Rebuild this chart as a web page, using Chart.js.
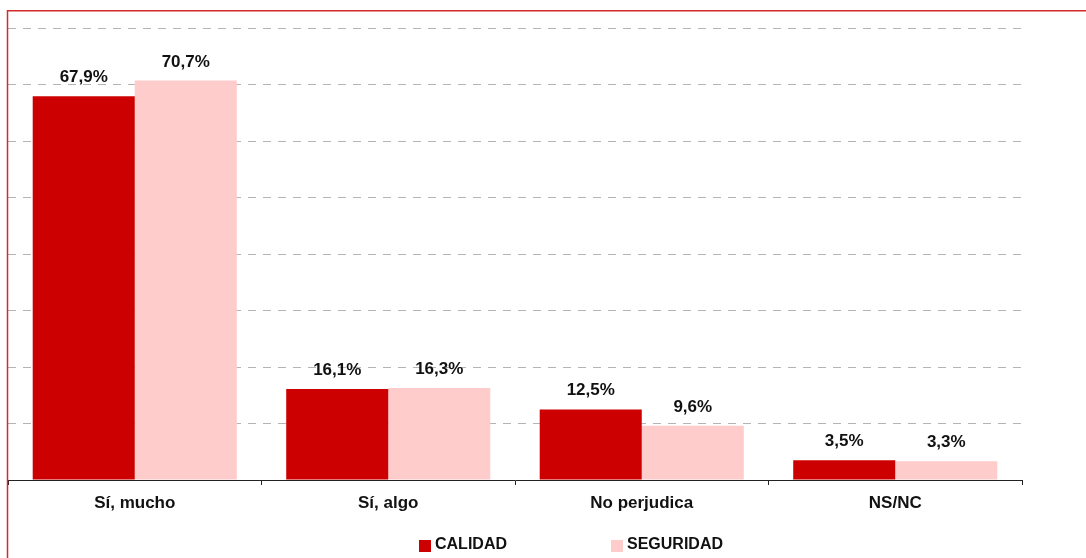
<!DOCTYPE html>
<html>
<head>
<meta charset="utf-8">
<style>
    body { margin: 0; background: #fff; }
    #wrap { width: 1086px; height: 558px; }
</style>
</head>
<body>
<div id="wrap"><canvas id="myChart" width="1086" height="558"></canvas></div>

<script src="https://cdn.jsdelivr.net/npm/chart.js"></script>
<script>
    // datos
    const categorias = ['Sí, mucho', 'Sí, algo', 'No perjudica', 'NS/NC'];
    const calidad = [67.9, 16.1, 12.5, 3.5];
    const seguridad = [70.7, 16.3, 9.6, 3.3];
    const fuente = '"Liberation Sans", Arial, sans-serif';

    function fmt(v) {
        return v.toFixed(1).replace('.', ',') + '%';
    }

    // etiquetas encima de cada barra
    const etiquetas = {
        id: 'etiquetas',
        afterDatasetsDraw(chart) {
            const ctx = chart.ctx;
            ctx.save();
            ctx.font = 'bold 17px ' + fuente;
            ctx.fillStyle = '#111';
            ctx.textAlign = 'center';
            ctx.textBaseline = 'alphabetic';
            chart.data.datasets.forEach((ds, i) => {
                chart.getDatasetMeta(i).data.forEach((bar, j) => {
                    ctx.fillText(fmt(ds.data[j]), bar.x, bar.y - 14);
                });
            });
            ctx.restore();
        }
    };

    // marco rojo y leyenda abajo
    const marco = {
        id: 'marco',
        afterDraw(chart) {
            const ctx = chart.ctx;
            ctx.save();
            ctx.strokeStyle = '#d42a2a';
            ctx.lineWidth = 1.5;
            ctx.beginPath();
            ctx.moveTo(7.5, chart.height);
            ctx.lineTo(7.5, 10.75);
            ctx.lineTo(chart.width, 10.75);
            ctx.stroke();

            ctx.font = 'bold 16px ' + fuente;
            ctx.textBaseline = 'middle';
            ctx.textAlign = 'left';
            const xs = [419, 611];
            chart.data.datasets.forEach((ds, i) => {
                ctx.fillStyle = ds.backgroundColor;
                ctx.fillRect(xs[i], 540, 12, 12);
                ctx.fillStyle = '#111';
                ctx.fillText(ds.label, xs[i] + 16, 545);
            });
            ctx.restore();
        }
    };

    const ctx = document.getElementById('myChart');
    const chart = new Chart(ctx, {
        type: 'bar',
        data: {
            labels: categorias,
            datasets: [
                {
                    label: 'CALIDAD',
                    data: calidad,
                    backgroundColor: '#cc0000',
                    borderWidth: 0,
                    categoryPercentage: 0.805,
                    barPercentage: 1.0,
                },
                {
                    label: 'SEGURIDAD',
                    data: seguridad,
                    backgroundColor: '#ffcccc',
                    borderWidth: 0,
                    categoryPercentage: 0.805,
                    barPercentage: 1.0,
                }
            ]
        },
        plugins: [etiquetas, marco],
        options: {
            responsive: false,
            animation: false,
            layout: { padding: { left: 8, right: 64, top: 28, bottom: 0 } },
            plugins: {
                legend: { display: false },
                tooltip: { enabled: false },
            },
            scales: {
                x: {
                    afterFit: s => { s.height = 78; },
                    grid: {
                        drawOnChartArea: false,
                        drawTicks: true,
                        tickLength: 5,
                        color: '#222',
                    },
                    border: { display: true, color: '#222', width: 1 },
                    ticks: {
                        color: '#111',
                        padding: 8,
                        font: { family: fuente, size: 17, weight: 'bold' },
                    },
                },
                y: {
                    min: 0,
                    max: 80,
                    afterFit: s => { s.width = 0; },
                    ticks: { display: false, stepSize: 10 },
                    grid: {
                        drawTicks: false,
                        color: c => c.tick.value === 0 ? 'rgba(0,0,0,0)' : '#b4b4b4',
                        lineWidth: 1,
                    },
                    border: { display: false, dash: [8, 7] },
                }
            }
        }
    });
</script>
</body>
</html>
